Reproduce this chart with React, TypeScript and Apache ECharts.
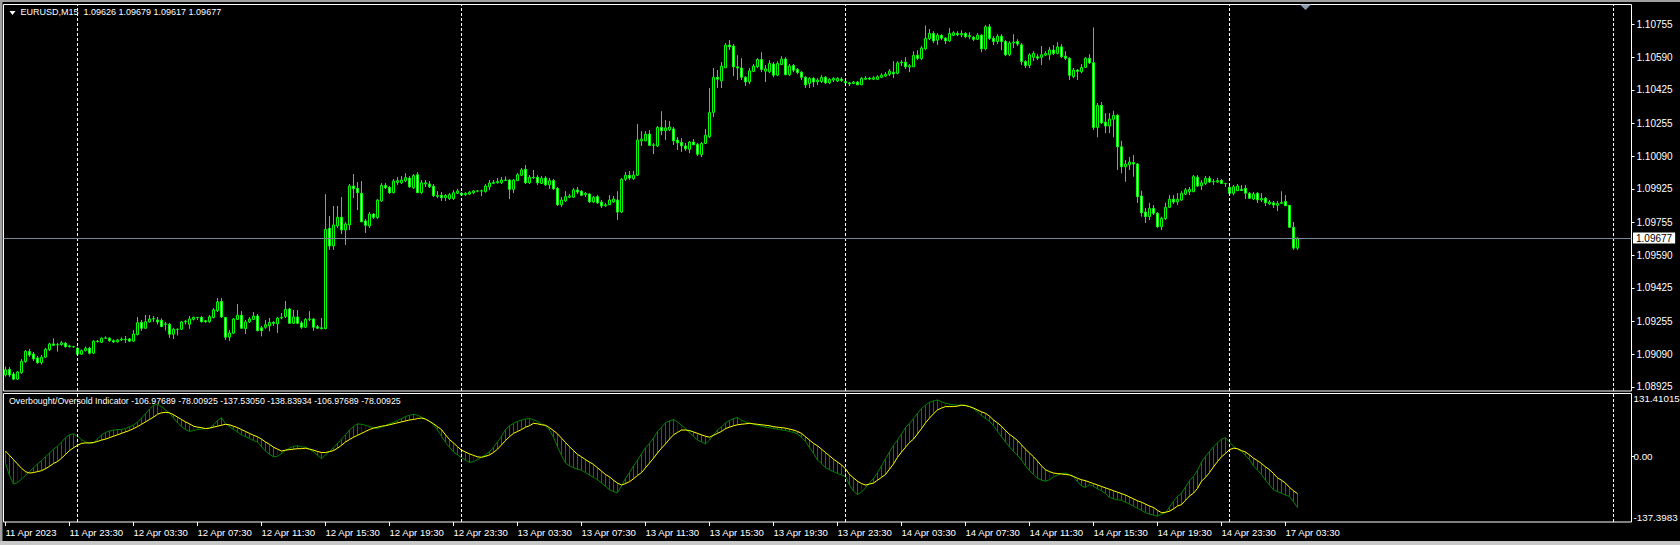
import { useEffect, useRef } from 'react';
import * as echarts from 'echarts';

// ---------- DATA ----------
const openPrices = [
  1.08985,1.09013,1.08990,1.08964,1.08997,1.09052,1.09103,1.09091,1.09071,1.09047,
  1.09075,1.09112,1.09142,1.09137,1.09138,1.09145,1.09132,1.09128,1.09120,1.09090,
  1.09108,1.09120,1.09095,1.09156,1.09150,1.09171,1.09171,1.09158,1.09152,1.09162,
  1.09166,1.09167,1.09156,1.09189,1.09251,1.09221,1.09253,1.09268,1.09263,1.09261,
  1.09243,1.09241,1.09191,1.09216,1.09216,1.09253,1.09241,1.09266,1.09276,1.09276,
  1.09259,1.09254,1.09275,1.09309,1.09357,1.09276,1.09176,1.09196,1.09266,1.09287,
  1.09219,1.09253,1.09266,1.09283,1.09223,1.09226,1.09233,1.09251,1.09243,1.09273,
  1.09280,1.09318,1.09246,1.09278,1.09248,1.09226,1.09266,1.09268,1.09229,1.09223,
  1.09219,1.09726,1.09637,1.09738,1.09782,1.09718,1.09743,1.09940,1.09928,1.09903,
  1.09763,1.09738,1.09798,1.09780,1.09865,1.09943,1.09933,1.09906,1.09958,1.09956,
  1.09967,1.09980,1.09931,1.09997,1.09906,1.09950,1.09950,1.09938,1.09891,1.09893,
  1.09881,1.09876,1.09876,1.09903,1.09903,1.09896,1.09899,1.09906,1.09915,1.09914,
  1.09911,1.09936,1.09953,1.09956,1.09956,1.09970,1.09970,1.09923,1.09967,1.09994,
  1.10024,1.09956,1.09984,1.09984,1.09953,1.09980,1.09946,1.09967,1.09928,1.09845,
  1.09865,1.09883,1.09883,1.09920,1.09913,1.09896,1.09899,1.09859,1.09886,1.09859,
  1.09840,1.09845,1.09859,1.09869,1.09808,1.09974,1.09994,1.09977,1.09994,1.10168,
  1.10168,1.10202,1.10145,1.10142,1.10236,1.10219,1.10224,1.10228,1.10172,1.10160,
  1.10142,1.10125,1.10162,1.10150,1.10098,1.10155,1.10189,1.10312,1.10489,1.10471,
  1.10537,1.10652,1.10647,1.10542,1.10536,1.10489,1.10466,1.10519,1.10542,1.10579,
  1.10520,1.10517,1.10556,1.10500,1.10554,1.10581,1.10502,1.10549,1.10529,1.10515,
  1.10489,1.10458,1.10484,1.10466,1.10468,1.10489,1.10461,1.10475,1.10470,1.10480,
  1.10468,1.10461,1.10458,1.10465,1.10451,1.10479,1.10485,1.10479,1.10479,1.10489,
  1.10495,1.10504,1.10515,1.10509,1.10562,1.10566,1.10542,1.10542,1.10601,1.10583,
  1.10633,1.10684,1.10711,1.10677,1.10701,1.10687,1.10673,1.10701,1.10711,1.10704,
  1.10711,1.10694,1.10691,1.10681,1.10702,1.10633,1.10744,1.10686,1.10670,1.10697,
  1.10670,1.10603,1.10663,1.10670,1.10653,1.10569,1.10549,1.10590,1.10593,1.10590,
  1.10601,1.10603,1.10627,1.10610,1.10643,1.10596,1.10585,1.10492,1.10526,1.10517,
  1.10539,1.10585,1.10563,1.10236,1.10347,1.10263,1.10243,1.10277,1.10297,1.10138,
  1.10037,1.10047,1.10058,1.10051,1.09889,1.09808,1.09785,1.09827,1.09802,1.09734,
  1.09775,1.09832,1.09873,1.09859,1.09869,1.09899,1.09911,1.09911,1.09984,1.09941,
  1.09953,1.09979,1.09961,1.09960,1.09968,1.09953,1.09933,1.09903,1.09916,1.09923,
  1.09928,1.09903,1.09874,1.09903,1.09869,1.09878,1.09849,1.09855,1.09842,1.09852,
  1.09862,1.09842,1.09731,1.09626
];
const closePrices = [
  1.09011,1.08985,1.08964,1.09000,1.09054,1.09105,1.09086,1.09066,1.09047,1.09075,
  1.09115,1.09142,1.09135,1.09138,1.09148,1.09128,1.09128,1.09127,1.09090,1.09108,
  1.09120,1.09095,1.09156,1.09154,1.09171,1.09172,1.09158,1.09152,1.09162,1.09166,
  1.09163,1.09156,1.09192,1.09249,1.09221,1.09254,1.09268,1.09270,1.09253,1.09229,
  1.09241,1.09191,1.09216,1.09215,1.09253,1.09257,1.09268,1.09276,1.09275,1.09254,
  1.09254,1.09279,1.09314,1.09354,1.09278,1.09176,1.09197,1.09268,1.09287,1.09221,
  1.09253,1.09268,1.09283,1.09209,1.09209,1.09239,1.09251,1.09246,1.09273,1.09276,
  1.09317,1.09246,1.09278,1.09246,1.09226,1.09266,1.09268,1.09226,1.09221,1.09219,
  1.09721,1.09637,1.09743,1.09782,1.09718,1.09748,1.09940,1.09926,1.09906,1.09759,
  1.09741,1.09798,1.09782,1.09869,1.09943,1.09931,1.09906,1.09965,1.09967,1.09970,
  1.09982,1.09936,1.09992,1.09906,1.09956,1.09956,1.09936,1.09891,1.09888,1.09881,
  1.09892,1.09896,1.09906,1.09915,1.09894,1.09903,1.09909,1.09915,1.09914,1.09916,
  1.09940,1.09955,1.09958,1.09963,1.09970,1.09968,1.09923,1.09970,1.09997,1.10021,
  1.09956,1.09984,1.09982,1.09956,1.09979,1.09946,1.09967,1.09926,1.09845,1.09869,
  1.09886,1.09889,1.09920,1.09909,1.09893,1.09903,1.09860,1.09883,1.09855,1.09839,
  1.09845,1.09869,1.09874,1.09808,1.09974,1.09994,1.09980,1.09995,1.10172,1.10177,
  1.10202,1.10145,1.10148,1.10236,1.10219,1.10233,1.10238,1.10168,1.10158,1.10143,
  1.10128,1.10162,1.10148,1.10100,1.10155,1.10196,1.10312,1.10489,1.10479,1.10546,
  1.10652,1.10643,1.10542,1.10536,1.10489,1.10466,1.10522,1.10546,1.10579,1.10529,
  1.10532,1.10559,1.10500,1.10559,1.10581,1.10502,1.10546,1.10525,1.10514,1.10489,
  1.10451,1.10484,1.10466,1.10475,1.10489,1.10461,1.10479,1.10484,1.10484,1.10473,
  1.10461,1.10456,1.10465,1.10451,1.10484,1.10485,1.10480,1.10487,1.10492,1.10500,
  1.10505,1.10520,1.10507,1.10562,1.10566,1.10542,1.10548,1.10600,1.10585,1.10637,
  1.10686,1.10711,1.10673,1.10702,1.10687,1.10673,1.10711,1.10714,1.10704,1.10711,
  1.10694,1.10700,1.10681,1.10702,1.10633,1.10744,1.10686,1.10670,1.10697,1.10670,
  1.10603,1.10663,1.10667,1.10657,1.10569,1.10549,1.10603,1.10610,1.10586,1.10603,
  1.10610,1.10627,1.10610,1.10643,1.10593,1.10585,1.10499,1.10526,1.10519,1.10539,
  1.10585,1.10562,1.10235,1.10347,1.10259,1.10243,1.10278,1.10297,1.10138,1.10037,
  1.10051,1.10061,1.10051,1.09886,1.09805,1.09785,1.09827,1.09802,1.09734,1.09777,
  1.09832,1.09873,1.09859,1.09873,1.09903,1.09920,1.09923,1.09989,1.09940,1.09956,
  1.09979,1.09960,1.09962,1.09967,1.09953,1.09952,1.09903,1.09936,1.09940,1.09917,
  1.09903,1.09878,1.09899,1.09869,1.09877,1.09855,1.09859,1.09844,1.09852,1.09857,
  1.09840,1.09731,1.09626,1.09677
];
const highPrices = [
  1.09027,1.09025,1.09000,1.09005,1.09066,1.09111,1.09117,1.09101,1.09081,1.09086,
  1.09122,1.09147,1.09170,1.09147,1.09157,1.09152,1.09137,1.09132,1.09127,1.09114,
  1.09129,1.09127,1.09160,1.09162,1.09175,1.09180,1.09175,1.09165,1.09167,1.09175,
  1.09182,1.09172,1.09212,1.09278,1.09263,1.09288,1.09288,1.09283,1.09278,1.09271,
  1.09253,1.09248,1.09223,1.09220,1.09258,1.09263,1.09283,1.09280,1.09278,1.09283,
  1.09263,1.09288,1.09324,1.09374,1.09374,1.09278,1.09212,1.09273,1.09344,1.09308,
  1.09263,1.09278,1.09303,1.09293,1.09233,1.09263,1.09273,1.09258,1.09278,1.09298,
  1.09359,1.09324,1.09313,1.09313,1.09258,1.09273,1.09308,1.09273,1.09238,1.09273,
  1.09899,1.09788,1.09839,1.09839,1.09884,1.09758,1.09950,1.10000,1.09960,1.09965,
  1.09773,1.09808,1.09803,1.09874,1.09955,1.09955,1.09940,1.09975,1.09985,1.09990,
  1.10005,1.09990,1.10000,1.10010,1.09970,1.09970,1.09965,1.09950,1.09914,1.09909,
  1.09899,1.09904,1.09919,1.09925,1.09909,1.09909,1.09914,1.09919,1.09919,1.09922,
  1.09950,1.09970,1.09970,1.09980,1.09985,1.09988,1.09975,1.09975,1.10005,1.10031,
  1.10046,1.09995,1.10021,1.09995,1.09990,1.09990,1.09980,1.09975,1.09935,1.09884,
  1.09914,1.09899,1.09930,1.09935,1.09919,1.09909,1.09904,1.09889,1.09894,1.09869,
  1.09854,1.09894,1.09889,1.09914,1.09980,1.10010,1.10016,1.10016,1.10253,1.10217,
  1.10217,1.10222,1.10157,1.10243,1.10318,1.10273,1.10268,1.10238,1.10187,1.10182,
  1.10157,1.10167,1.10177,1.10157,1.10162,1.10228,1.10435,1.10536,1.10526,1.10566,
  1.10662,1.10677,1.10657,1.10601,1.10586,1.10495,1.10536,1.10556,1.10586,1.10616,
  1.10551,1.10576,1.10566,1.10571,1.10596,1.10591,1.10556,1.10556,1.10536,1.10520,
  1.10495,1.10490,1.10490,1.10485,1.10500,1.10495,1.10485,1.10490,1.10490,1.10490,
  1.10475,1.10465,1.10470,1.10470,1.10490,1.10495,1.10490,1.10495,1.10500,1.10510,
  1.10515,1.10531,1.10571,1.10571,1.10576,1.10591,1.10556,1.10621,1.10626,1.10647,
  1.10751,1.10733,1.10722,1.10712,1.10707,1.10692,1.10738,1.10722,1.10722,1.10727,
  1.10717,1.10717,1.10697,1.10712,1.10707,1.10753,1.10758,1.10697,1.10707,1.10707,
  1.10677,1.10672,1.10707,1.10682,1.10662,1.10576,1.10611,1.10621,1.10606,1.10647,
  1.10621,1.10642,1.10652,1.10667,1.10657,1.10621,1.10591,1.10536,1.10531,1.10556,
  1.10591,1.10606,1.10741,1.10359,1.10364,1.10308,1.10308,1.10320,1.10303,1.10168,
  1.10071,1.10086,1.10096,1.10056,1.09916,1.09829,1.09855,1.09844,1.09808,1.09785,
  1.09855,1.09894,1.09894,1.09904,1.09914,1.09930,1.09935,1.09995,1.09995,1.09970,
  1.09990,1.09990,1.09975,1.09980,1.09975,1.09955,1.09940,1.09945,1.09950,1.09945,
  1.09945,1.09909,1.09909,1.09909,1.09904,1.09884,1.09869,1.09864,1.09864,1.09913,
  1.09894,1.09844,1.09758,1.09679
];
const lowPrices = [
  1.08977,1.08975,1.08960,1.08960,1.08990,1.09046,1.09076,1.09056,1.09041,1.09038,
  1.09071,1.09106,1.09132,1.09103,1.09132,1.09122,1.09124,1.09122,1.09086,1.09086,
  1.09104,1.09089,1.09091,1.09149,1.09147,1.09167,1.09152,1.09147,1.09149,1.09157,
  1.09147,1.09152,1.09152,1.09185,1.09208,1.09218,1.09250,1.09253,1.09240,1.09227,
  1.09210,1.09172,1.09167,1.09185,1.09212,1.09240,1.09218,1.09260,1.09263,1.09250,
  1.09248,1.09248,1.09271,1.09303,1.09273,1.09162,1.09157,1.09192,1.09263,1.09218,
  1.09192,1.09248,1.09263,1.09205,1.09180,1.09218,1.09205,1.09233,1.09197,1.09266,
  1.09273,1.09243,1.09243,1.09243,1.09218,1.09223,1.09258,1.09208,1.09218,1.09215,
  1.09215,1.09617,1.09617,1.09728,1.09697,1.09642,1.09718,1.09879,1.09818,1.09758,
  1.09702,1.09728,1.09773,1.09773,1.09859,1.09925,1.09899,1.09902,1.09945,1.09950,
  1.09960,1.09930,1.09925,1.09904,1.09899,1.09935,1.09930,1.09884,1.09879,1.09864,
  1.09864,1.09869,1.09869,1.09899,1.09889,1.09889,1.09894,1.09899,1.09909,1.09889,
  1.09907,1.09919,1.09950,1.09952,1.09950,1.09965,1.09874,1.09904,1.09965,1.09991,
  1.09950,1.09950,1.09975,1.09945,1.09950,1.09940,1.09925,1.09919,1.09839,1.09834,
  1.09859,1.09879,1.09879,1.09899,1.09889,1.09884,1.09854,1.09854,1.09849,1.09829,
  1.09834,1.09844,1.09854,1.09768,1.09803,1.09965,1.09970,1.09970,1.09990,1.10142,
  1.10167,1.10142,1.10101,1.10137,1.10197,1.10172,1.10217,1.10147,1.10122,1.10112,
  1.10117,1.10106,1.10147,1.10091,1.10086,1.10152,1.10182,1.10288,1.10435,1.10435,
  1.10536,1.10627,1.10495,1.10475,1.10475,1.10445,1.10455,1.10515,1.10536,1.10515,
  1.10465,1.10510,1.10490,1.10495,1.10551,1.10500,1.10495,1.10515,1.10505,1.10475,
  1.10435,1.10435,1.10440,1.10450,1.10460,1.10455,1.10455,1.10465,1.10465,1.10465,
  1.10455,1.10445,1.10455,1.10450,1.10450,1.10475,1.10475,1.10475,1.10475,1.10485,
  1.10490,1.10495,1.10485,1.10505,1.10546,1.10531,1.10515,1.10541,1.10576,1.10576,
  1.10626,1.10677,1.10662,1.10652,1.10677,1.10657,1.10667,1.10697,1.10697,1.10692,
  1.10687,1.10682,1.10672,1.10677,1.10616,1.10626,1.10677,1.10652,1.10657,1.10626,
  1.10596,1.10596,1.10637,1.10647,1.10551,1.10536,1.10536,1.10571,1.10576,1.10551,
  1.10596,1.10576,1.10601,1.10606,1.10586,1.10576,1.10475,1.10485,1.10475,1.10510,
  1.10536,1.10556,1.10223,1.10186,1.10253,1.10207,1.10207,1.10186,1.10021,1.10004,
  1.09961,1.10021,1.09987,1.09854,1.09785,1.09753,1.09768,1.09793,1.09728,1.09717,
  1.09768,1.09829,1.09849,1.09844,1.09864,1.09894,1.09894,1.09909,1.09935,1.09919,
  1.09945,1.09955,1.09945,1.09955,1.09950,1.09935,1.09899,1.09894,1.09914,1.09914,
  1.09874,1.09874,1.09869,1.09854,1.09859,1.09839,1.09844,1.09829,1.09813,1.09849,
  1.09839,1.09728,1.09617,1.09617
];
// Overbought/Oversold indicator: fast (green) and slow (yellow) lines
const fastLine = [
  -15,-40,-58,-55,-48,-40,-32,-24,-16,-9,
  -1,7,15,21,30,39,45,47,42,35,
  30,27,28,36,45,50,53,55,56,56,
  58,62,65,72,80,89,99,107,109,104,
  97,91,80,70,62,56,52,54,56,57,
  58,59,66,75,81,68,62,56,51,45,
  41,37,33,30,20,11,4,-1,0,6,
  12,17,21,22,20,19,15,9,2,-5,
  3,10,18,27,36,45,55,62,68,67,
  65,62,60,58,61,65,68,71,75,79,
  83,86,88,86,82,78,74,66,55,42,
  29,19,9,3,-3,-8,-13,-11,-7,-2,
  3,10,19,30,42,56,64,69,73,76,
  78,79,77,73,68,63,55,40,20,2,
  -14,-20,-24,-27,-29,-34,-39,-44,-49,-56,
  -63,-70,-74,-76,-62,-46,-34,-20,-8,5,
  18,27,38,52,61,70,74,77,72,65,
  58,49,42,34,30,26,34,45,55,62,
  70,75,79,81,76,72,70,67,65,63,
  61,60,58,57,55,54,52,50,47,40,
  31,18,6,-8,-15,-24,-28,-32,-36,-39,
  -42,-60,-73,-80,-75,-66,-56,-46,-34,-20,
  -5,9,23,34,47,60,69,79,90,100,
  107,113,116,118,114,111,109,108,107,107,
  107,104,100,93,85,79,73,64,52,41,
  30,20,10,2,-8,-20,-30,-38,-46,-50,
  -52,-49,-43,-39,-36,-35,-38,-43,-53,-62,
  -65,-59,-63,-68,-72,-78,-86,-89,-91,-92,
  -96,-100,-104,-109,-113,-118,-121,-123,-125,-121,
  -118,-106,-94,-84,-77,-64,-51,-42,-29,-12,
  0,10,20,28,36,39,30,21,15,10,
  2,-7,-20,-29,-38,-50,-60,-70,-74,-77,
  -81,-84,-95,-106.97689
];
const slowLine = [
  11,2,-7,-16,-25,-32,-35,-34,-32,-30,
  -26,-21,-15,-11,-4,4,12,18,23,27,
  28,28,29,31,34,36,39,42,45,48,
  51,54,58,62,67,72,77,82,88,91,
  92,91,87,82,77,72,68,63,61,60,
  58,59,61,63,65,67,66,63,60,56,
  52,48,44,41,36,30,25,19,15,11,
  13,14,15,16,16,17,15,13,10,8,
  8,10,12,17,23,30,35,40,44,48,
  52,56,59,61,63,64,66,68,70,72,
  74,76,77,79,80,78,73,68,62,56,
  45,35,28,20,13,9,5,2,-1,-2,
  0,3,8,15,24,33,41,48,52,56,
  61,64,69,68,66,65,60,54,47,38,
  29,20,12,4,-1,-7,-12,-17,-24,-31,
  -38,-43,-50,-56,-60,-57,-53,-47,-40,-34,
  -24,-14,-4,7,17,26,36,45,50,55,
  55,54,51,48,45,42,40,44,48,52,
  58,61,64,66,67,68,69,68,67,66,
  65,64,62,61,60,59,57,55,52,48,
  41,34,27,22,15,8,1,-6,-12,-18,
  -26,-38,-45,-52,-57,-60,-58,-56,-50,-44,
  -38,-27,-16,-2,9,19,29,36,47,58,
  70,80,89,97,101,104,104,104,105,107,
  106,104,101,97,93,90,84,76,70,63,
  54,46,40,33,24,15,7,-1,-10,-20,
  -28,-32,-35,-36,-37,-38,-39,-42,-46,-49,
  -51,-54,-57,-60,-63,-66,-69,-72,-75,-78,
  -81,-85,-89,-93,-96,-100,-104,-107,-113,-118,
  -117,-115,-110,-104,-101,-92,-83,-77,-67,-52,
  -44,-34,-22,-11,-1,6,14,17,16,12,
  9,3,-4,-9,-15,-22,-28,-36,-45,-50,
  -56,-65,-72,-78.00925
];
const priceTickLabels = [
  '1.08925','1.09090','1.09255','1.09425','1.09590','1.09755',
  '1.09925','1.10090','1.10255','1.10425','1.10590','1.10755'
];
const indicatorTickValues = [-137.39837, 0, 131.41015];
const indicatorTickLabels = ['-137.3983', '0.00', '131.41015'];
const timeTickLabels = [
  '11 Apr 2023','11 Apr 23:30','12 Apr 03:30','12 Apr 07:30','12 Apr 11:30','12 Apr 15:30',
  '12 Apr 19:30','12 Apr 23:30','13 Apr 03:30','13 Apr 07:30','13 Apr 11:30','13 Apr 15:30',
  '13 Apr 19:30','13 Apr 23:30','14 Apr 03:30','14 Apr 07:30','14 Apr 11:30','14 Apr 15:30',
  '14 Apr 19:30','14 Apr 23:30','17 Apr 03:30'
];
const daySeparatorBars = [18, 114, 210, 306, 402];
const indicatorTitleValues = ['-106.97689','-78.00925','-137.53050','-138.83934','-106.97689','-78.00925'];
const symbolName = 'EURUSD,M15';
const indicatorName = 'Overbought/Oversold Indicator';

const SLOT_COUNT = 407;     // bar slots visible across the chart width
const TIME_TICK_STEP = 16;  // one time label every 16 bars (4 hours)
const PRICE_MIN = 1.08904;
const PRICE_MAX = 1.10857;
const IND_MIN = -137.39837;
const IND_MAX = 131.41015;

const FONT = 'Tahoma, "Liberation Sans", Arial, sans-serif';
const GRID_LEFT = 3.5;
const GRID_WIDTH = 1628;

export default function App() {
  const ref = useRef<HTMLDivElement>(null);

  useEffect(() => {
    document.body.style.margin = '0';
    const el = ref.current as HTMLDivElement;
    const chart = echarts.init(el, null, { renderer: 'svg' });

    const slots = Array.from({ length: SLOT_COUNT }, (_, i) => String(i));
    const candles = openPrices.map((o, i) => [o, closePrices[i], lowPrices[i], highPrices[i]]);
    const last = openPrices.length - 1;
    const lastClose = closePrices[last];

    const HIST_COLORS = ['#008000', '#0000ff', '#ff0000'];
    const hist = fastLine.map((g, i) => {
      const s = slowLine[i];
      const prev = i > 0 ? fastLine[i - 1] : g;
      let c;
      if (g >= s) c = g >= prev ? 0 : 1;
      else c = g <= prev ? 2 : 1;
      return [i, g, s, c];
    });

    const sepLines = daySeparatorBars.map((b) => ({
      xAxis: String(b),
      lineStyle: { color: '#ffffff', type: [3, 2], width: 1 },
      label: { show: false },
    }));

    const timeInterval = (idx: number) =>
      idx % TIME_TICK_STEP === 0 && idx / TIME_TICK_STEP < timeTickLabels.length;

    const option: any = {
      animation: false,
      backgroundColor: '#000000',
      textStyle: { fontFamily: FONT },
      title: [
        {
          text: `${symbolName}  ${openPrices[last].toFixed(5)} ${highPrices[last].toFixed(5)} ${lowPrices[last].toFixed(5)} ${closePrices[last].toFixed(5)}`,
          left: 20.5, top: 7, padding: 0,
          textStyle: { color: '#ffffff', fontSize: 9, fontWeight: 'normal', fontFamily: FONT },
        },
        {
          text: `${indicatorName} ${indicatorTitleValues.join(' ')}`,
          left: 9, top: 396.5, padding: 0,
          textStyle: { color: '#ffffff', fontSize: 8.8, fontWeight: 'normal', fontFamily: FONT },
        },
      ],
      grid: [
        { left: GRID_LEFT, top: 4.5, width: GRID_WIDTH, height: 386.5, show: true, borderColor: '#ffffff', borderWidth: 1, backgroundColor: 'transparent', containLabel: false, outerBoundsMode: 'none' },
        { left: GRID_LEFT, top: 393.5, width: GRID_WIDTH, height: 128.5, show: true, borderColor: '#ffffff', borderWidth: 1, backgroundColor: 'transparent', containLabel: false, outerBoundsMode: 'none' },
      ],
      xAxis: [
        {
          type: 'category', gridIndex: 0, data: slots, boundaryGap: true,
          axisLine: { show: false, onZero: false }, axisTick: { show: false }, axisLabel: { show: false }, splitLine: { show: false },
        },
        {
          type: 'category', gridIndex: 1, data: slots, boundaryGap: true, position: 'bottom',
          axisLine: { show: false, onZero: false },
          axisTick: { show: true, alignWithLabel: true, interval: timeInterval, length: 4, lineStyle: { color: '#ffffff', width: 1 } },
          axisLabel: {
            show: true, interval: timeInterval, align: 'left', margin: 5,
            color: '#ffffff', fontSize: 9.6, fontFamily: FONT,
            formatter: (_v: string, idx: number) => timeTickLabels[idx / TIME_TICK_STEP] ?? '',
          },
          splitLine: { show: false },
        },
      ],
      yAxis: [
        {
          type: 'value', gridIndex: 0, position: 'right', min: PRICE_MIN, max: PRICE_MAX, scale: true,
          axisLine: { show: false }, splitLine: { show: false },
          axisTick: { show: true, length: 3, customValues: priceTickLabels.map(Number), lineStyle: { color: '#ffffff' } },
          axisLabel: {
            show: true, margin: 5, color: '#ffffff', fontSize: 10, fontFamily: FONT,
            customValues: priceTickLabels.map(Number),
            formatter: (v: number) => v.toFixed(5),
          },
        },
        {
          type: 'value', gridIndex: 1, position: 'right', min: IND_MIN, max: IND_MAX,
          axisLine: { show: false }, splitLine: { show: false },
          axisTick: { show: true, length: 3, customValues: [0], lineStyle: { color: '#ffffff' } },
          axisLabel: {
            show: true, margin: 2, color: '#ffffff', fontSize: 9.8, fontFamily: FONT,
            customValues: indicatorTickValues,
            verticalAlignMinLabel: 'bottom', verticalAlignMaxLabel: 'top',
            formatter: (v: number) => {
              const k = indicatorTickValues.indexOf(v);
              return k >= 0 ? indicatorTickLabels[k] : '';
            },
          },
        },
      ],
      series: [
        {
          type: 'candlestick', xAxisIndex: 0, yAxisIndex: 0, data: candles, barWidth: 3,
          itemStyle: {
            color: '#000000', color0: '#ffffff',
            borderColor: '#00ff00', borderColor0: '#00ff00', borderColorDoji: '#00ff00', borderWidth: 1,
          },
          markLine: {
            silent: true, symbol: ['none', 'none'], animation: false,
            data: sepLines,
          },
        },
        {
          // carrier for the current-price (bid) line; the line itself is invisible
          type: 'line', xAxisIndex: 0, yAxisIndex: 0, data: closePrices, symbol: 'none', silent: true,
          lineStyle: { opacity: 0, width: 0 }, z: 1,
          markLine: {
            silent: true, symbol: ['none', 'none'], animation: false, precision: 5,
            data: [
              {
                yAxis: lastClose,
                lineStyle: { color: '#778899', type: 'solid', width: 1 },
                label: {
                  show: true, position: 'end', distance: 1.5,
                  formatter: lastClose.toFixed(5),
                  backgroundColor: '#ffffff', color: '#000000',
                  padding: [1, 3, 0, 3], fontSize: 10, fontFamily: FONT,
                },
              },
            ],
          },
        },
        {
          type: 'custom', xAxisIndex: 1, yAxisIndex: 1, data: hist, silent: true, z: 1,
          renderItem: (_p: any, api: any) => {
            const i = api.value(0);
            const a = api.coord([i, api.value(1)]);
            const b = api.coord([i, api.value(2)]);
            return {
              type: 'line',
              shape: { x1: a[0], y1: a[1], x2: b[0], y2: b[1] },
              style: { stroke: HIST_COLORS[api.value(3)], lineWidth: 1 },
            };
          },
        },
        {
          type: 'line', xAxisIndex: 1, yAxisIndex: 1, data: fastLine, symbol: 'none', z: 2, silent: true,
          lineStyle: { color: '#008000', width: 1 },
          markLine: { silent: true, symbol: ['none', 'none'], animation: false, data: sepLines },
        },
        {
          type: 'line', xAxisIndex: 1, yAxisIndex: 1, data: slowLine, symbol: 'none', z: 3, silent: true,
          lineStyle: { color: '#ffff00', width: 1 },
        },
      ],
      graphic: [
        { type: 'rect', silent: true, shape: { x: 0, y: 0, width: 1680, height: 2 }, style: { fill: '#a0a0a0' } },
        { type: 'rect', silent: true, shape: { x: 0, y: 0, width: 2.5, height: 545 }, style: { fill: '#a0a0a0' } },
        { type: 'rect', silent: true, shape: { x: 0, y: 541, width: 1680, height: 4 }, style: { fill: '#c8c8c8' } },
        { type: 'polygon', silent: true, shape: { points: [[9.5, 11], [15.5, 11], [12.5, 15]] }, style: { fill: '#ffffff' } },
        { type: 'polygon', silent: true, shape: { points: [[1300, 4.5], [1311, 4.5], [1305.5, 10]] }, style: { fill: '#8a9ab0' } },
      ],
    };

    chart.setOption(option);
    return () => chart.dispose();
  }, []);

  return <div ref={ref} style={{ width: 1680, height: 545 }} />;
}
